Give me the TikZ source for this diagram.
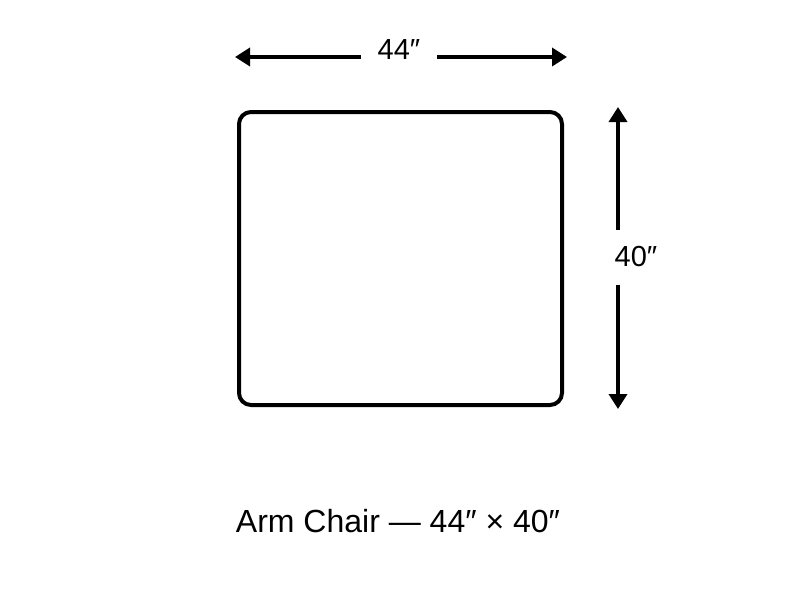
\documentclass[tikz,border=0pt]{standalone}
\usepackage{fontspec}
\setmainfont{Liberation Sans}
\usetikzlibrary{arrows.meta,positioning}

\begin{document}
\begin{tikzpicture}[x=1pt, y=-1pt, line cap=butt,
  chairbox/.style={draw, line width=4pt, rounded corners=12pt, minimum width=323pt, minimum height=293pt, inner sep=0pt},
  dimarrow/.style={line width=3.5pt, -{Triangle[length=15pt,width=18pt]}},
  dimlabel/.style={inner sep=0pt, outer sep=0pt, font=\fontsize{29}{33}\selectfont}]
  \useasboundingbox (0,0) rectangle (800,600);
  % chair outline
  \node[chairbox] (chair) at (400.5,258.5) {};
  % width
  \node[dimlabel, minimum width=76pt] (width) at (399,50) {44″};
  \coordinate (wl) at (235,57);
  \coordinate (wr) at (567,57);
  \draw[dimarrow] (width.west |- wl) -- (wl);
  \draw[dimarrow] (width.east |- wr) -- (wr);
  % depth
  \node[dimlabel, minimum height=55pt] (depth) at (636,257) {40″};
  \coordinate (dt) at (618,107);
  \coordinate (db) at (618,409);
  \draw[dimarrow] (dt |- depth.north) -- (dt);
  \draw[dimarrow] (db |- depth.south) -- (db);
  % caption
  \node[font=\fontsize{32}{36}\selectfont] (caption) at (398,521) {Arm Chair — 44″ × 40″};
\end{tikzpicture}
\end{document}
